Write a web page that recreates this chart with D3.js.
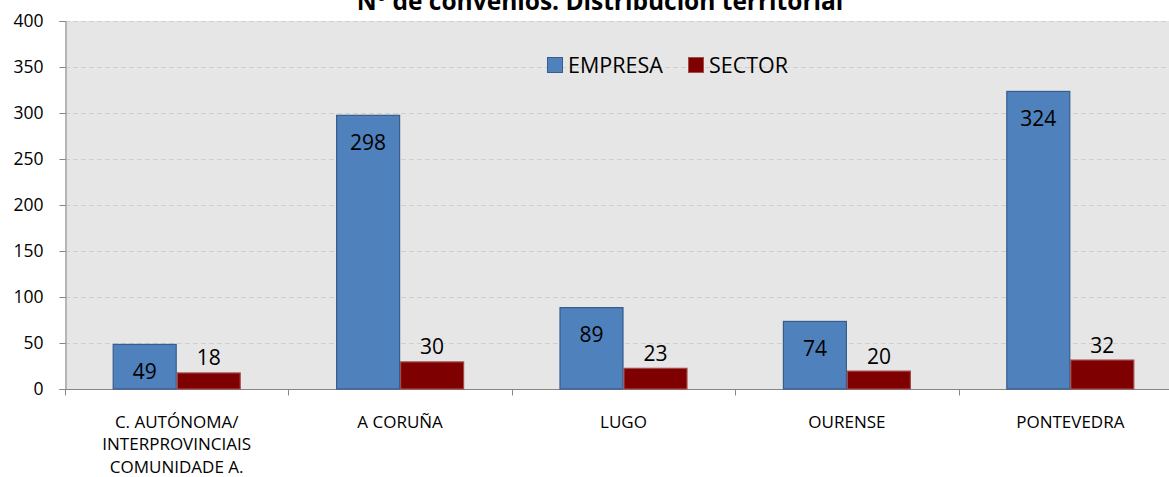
<!DOCTYPE html>
<html>
<head>
<meta charset="utf-8">
<script src="https://cdn.jsdelivr.net/npm/d3@7"></script>
<style>
	body { margin: 0; background: #fff; }
	svg { display: block; font-family: "Open Sans", "Noto Sans", sans-serif; }
</style>
</head>
<body>
<svg id="chart" width="1169" height="477"></svg>
<script>
const categories = [["C. AUTÓNOMA/", "INTERPROVINCIAIS", "COMUNIDADE A."], ["A CORUÑA"], ["LUGO"], ["OURENSE"], ["PONTEVEDRA"]];
const series_names = ["EMPRESA", "SECTOR"];
const empresa = [49, 298, 89, 74, 324];
const sector = [18, 30, 23, 20, 32];
const y_ticks = [0, 50, 100, 150, 200, 250, 300, 350, 400];
const title_text = "Nº de convenios. Distribución territorial";

const fills = ["#4f81bd", "#7f0000"];
const strokes = ["#385d8a", "#a04a4a"];

const svg = d3.select("#chart");
const plot_left = 65, plot_right = 1182, plot_top = 21, plot_bottom = 389;

const x = d3.scaleBand()
	.domain(d3.range(categories.length))
	.range([plot_left, plot_right]);

const bw = 64;
const xs = d3.scaleBand()
	.domain(series_names)
	.range([x.bandwidth() / 2 - bw, x.bandwidth() / 2 + bw]);

const y = d3.scaleLinear()
	.domain([0, 400])
	.range([plot_bottom, plot_top]);

// plot background
svg.append("rect")
	.attr("x", plot_left).attr("y", plot_top)
	.attr("width", plot_right - plot_left).attr("height", plot_bottom - plot_top)
	.attr("fill", "#e6e6e6");

// gridlines
svg.append("g")
	.selectAll("line")
	.data(y_ticks.filter(d => d > 0))
	.enter()
	.append("line")
	.attr("x1", plot_left).attr("x2", plot_right)
	.attr("y1", d => y(d) + 0.5).attr("y2", d => y(d) + 0.5)
	.attr("stroke", "#cfcfcf")
	.attr("stroke-dasharray", "5,3");

// y axis
const yAxis = svg.append("g")
	.attr("transform", "translate(" + (plot_left + 0.5) + ",0)")
	.call(d3.axisLeft(y).tickValues(y_ticks).tickSize(6).tickPadding(16));
yAxis.select(".domain").attr("stroke", "#868686");
yAxis.selectAll(".tick line").attr("stroke", "#868686");
yAxis.selectAll(".tick text")
	.attr("font-size", 17.5)
	.attr("font-family", "'Open Sans', sans-serif")
	.attr("fill", "#000");

// x axis
const xAxis = svg.append("g")
	.attr("transform", "translate(0," + (plot_bottom + 0.5) + ")");
xAxis.append("line")
	.attr("x1", plot_left).attr("x2", plot_right)
	.attr("stroke", "#868686");
xAxis.selectAll(".xt")
	.data(d3.range(categories.length + 1))
	.enter()
	.append("line")
	.attr("x1", i => Math.round(plot_left + i * x.step()) + 0.5)
	.attr("x2", i => Math.round(plot_left + i * x.step()) + 0.5)
	.attr("y1", 0).attr("y2", 6)
	.attr("stroke", "#868686");

const catLabels = xAxis.selectAll(".cat")
	.data(categories)
	.enter()
	.append("text")
	.attr("text-anchor", "middle")
	.attr("font-size", 17)
	.attr("fill", "#000");
catLabels.each(function(lines, i) {
	d3.select(this).selectAll("tspan")
		.data(lines)
		.enter()
		.append("tspan")
		.attr("x", x(i) + x.bandwidth() / 2)
		.attr("y", (d, j) => 38 + j * 22.5)
		.text(d => d);
});

// bars
const rows = categories.map((c, i) => ({ i: i, vals: [empresa[i], sector[i]] }));
const groups = svg.append("g")
	.selectAll("g")
	.data(rows)
	.enter()
	.append("g")
	.attr("transform", d => "translate(" + x(d.i) + ",0)");

groups.selectAll("rect")
	.data(d => d.vals.map((v, k) => ({ k: k, v: v })))
	.enter()
	.append("rect")
	.attr("x", d => xs(series_names[d.k]) + 0.5)
	.attr("width", xs.bandwidth() - 1)
	.attr("y", d => y(d.v) + 0.5)
	.attr("height", d => plot_bottom - y(d.v) - 0.5)
	.attr("fill", d => fills[d.k])
	.attr("stroke", d => strokes[d.k])
	.attr("stroke-width", 1.2);

// value labels: blue inside end, red outside end
groups.selectAll(".val")
	.data(d => d.vals.map((v, k) => ({ k: k, v: v })))
	.enter()
	.append("text")
	.attr("text-anchor", "middle")
	.attr("font-size", 21)
	.attr("fill", "#000")
	.attr("x", d => xs(series_names[d.k]) + xs.bandwidth() / 2)
	.attr("y", d => d.k === 0 ? y(d.v) + 35 : y(d.v) - 7)
	.text(d => d.v);

// legend
const legend = svg.append("g").attr("transform", "translate(547,57)");
const legendX = [0, 141];
series_names.forEach((name, k) => {
	legend.append("rect")
		.attr("x", legendX[k] + 0.5).attr("y", 0.5)
		.attr("width", 15).attr("height", 15)
		.attr("fill", fills[k])
		.attr("stroke", strokes[k]);
	legend.append("text")
		.attr("x", legendX[k] + 21).attr("y", 16)
		.attr("font-size", 21.5)
		.attr("fill", "#000")
		.text(name);
});

// title (partly cut off at the top, as in the source)
svg.append("text")
	.attr("x", 600).attr("y", 10)
	.attr("text-anchor", "middle")
	.attr("font-size", 24.5)
	.attr("font-weight", "bold")
	.attr("fill", "#000")
	.text(title_text);
</script>
</body>
</html>
